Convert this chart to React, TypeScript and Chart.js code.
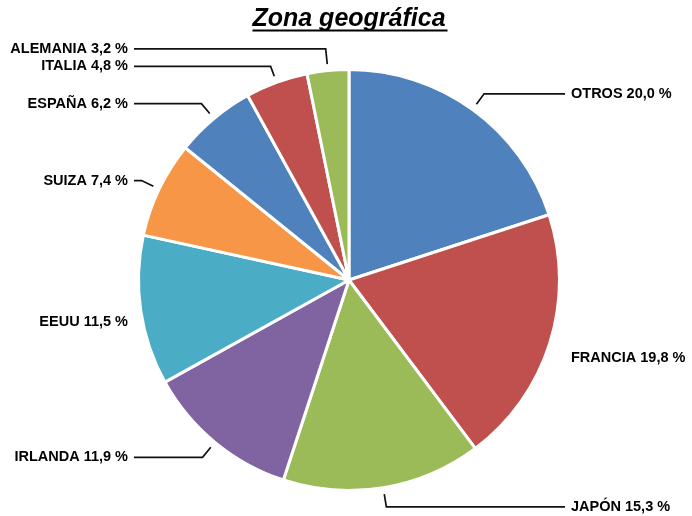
import { useEffect, useRef } from "react";
import { Chart, registerables } from "chart.js";

Chart.register(...registerables);

const TITLE = "Zona geográfica";
const CATEGORIES = ["OTROS", "FRANCIA", "JAPÓN", "IRLANDA", "EEUU", "SUIZA", "ESPAÑA", "ITALIA", "ALEMANIA"];
const SHARES = [20.0, 19.8, 15.3, 11.9, 11.5, 7.4, 6.2, 4.8, 3.2];
const COLORS = ["#4F81BD", "#C0504D", "#9BBB59", "#8064A2", "#4BACC6", "#F79646", "#4F81BD", "#C0504D", "#9BBB59"];

const FAMILY = "'Liberation Sans', Arial, sans-serif";
const LABEL_FONT = `bold 14.5px ${FAMILY}`;
const TITLE_SIZE = 25;
const BORDER = 3;

const fmt = (v: number) => v.toFixed(1).replace(".", ",") + " %";

const pieLabels = {
  id: "pieLabels",
  afterDatasetsDraw(chart: any) {
    const ctx = chart.ctx as CanvasRenderingContext2D;
    const meta = chart.getDatasetMeta(0);
    ctx.save();
    ctx.font = LABEL_FONT;
    const items = meta.data.map((arc: any, i: number) => {
      const p = arc.getProps(["x", "y", "startAngle", "endAngle", "outerRadius"], true);
      const r = p.outerRadius - BORDER / 2;
      const a = (p.startAngle + p.endAngle) / 2;
      const cos = Math.cos(a);
      const sin = Math.sin(a);
      const right = cos >= 0;
      const textX = right ? p.x + r + 13 : p.x - r - 12;
      const edgeX = right ? textX - 6 : textX + 6;
      const elbowX0 = p.x + (r + 21) * cos;
      const leader = right ? elbowX0 < edgeX - 2 : elbowX0 > edgeX + 2;
      let y = p.y + (r + 21) * sin;
      if (!leader) y += Math.sign(sin) * 9;
      return {
        cx: p.x, cy: p.y, r, cos, sin, right, textX, edgeX, leader, y,
        text: `${CATEGORIES[i]} ${fmt(SHARES[i])}`,
      };
    });
    for (const side of [true, false]) {
      const group = items.filter((it: any) => it.right === side).sort((a: any, b: any) => a.y - b.y);
      const gap = 17.5;
      for (let iter = 0; iter < 60; iter++) {
        let moved = false;
        for (let k = 1; k < group.length; k++) {
          const d = group[k].y - group[k - 1].y;
          if (d < gap - 0.01) {
            const s = (gap - d) / 2;
            group[k].y += s;
            group[k - 1].y -= s;
            moved = true;
          }
        }
        if (!moved) break;
      }
    }
    ctx.strokeStyle = "#111";
    ctx.lineWidth = 1.7;
    ctx.fillStyle = "#000";
    ctx.textBaseline = "middle";
    for (const it of items) {
      if (it.leader) {
        let t = Math.abs(it.sin) > 0.2 ? (it.y - it.cy) / it.sin : it.r + 21;
        t = Math.max(it.r + 12, Math.min(it.r + 40, t));
        const ex = it.cx + t * it.cos;
        ctx.beginPath();
        ctx.moveTo(it.cx + (it.r + 8) * it.cos, it.cy + (it.r + 8) * it.sin);
        ctx.lineTo(ex, it.y);
        ctx.lineTo(it.edgeX, it.y);
        ctx.stroke();
      }
      ctx.textAlign = it.right ? "left" : "right";
      ctx.fillText(it.text, it.textX, it.y);
    }
    ctx.restore();
  },
};

const titleUnderline = {
  id: "titleUnderline",
  afterDraw(chart: any) {
    const tb = chart.titleBlock;
    if (!tb) return;
    const ctx = chart.ctx as CanvasRenderingContext2D;
    ctx.save();
    ctx.font = `italic bold ${TITLE_SIZE}px ${FAMILY}`;
    const w = ctx.measureText(TITLE).width;
    const cx = tb.left + tb.width / 2;
    const y = tb.top + 4.5 + 15 + 11;
    ctx.strokeStyle = "#000";
    ctx.lineWidth = 2;
    ctx.beginPath();
    ctx.moveTo(cx - w / 2, y);
    ctx.lineTo(cx + w / 2 + 2, y);
    ctx.stroke();
    ctx.restore();
  },
};

export default function App() {
  const ref = useRef<HTMLCanvasElement | null>(null);
  useEffect(() => {
    if (!ref.current) return;
    const chart = new Chart(ref.current, {
      type: "pie",
      data: {
        labels: CATEGORIES,
        datasets: [
          {
            data: SHARES,
            backgroundColor: COLORS,
            borderColor: "#ffffff",
            borderWidth: BORDER,
          },
        ],
      },
      options: {
        responsive: false,
        animation: false,
        devicePixelRatio: 1,
        layout: { padding: { left: 137, right: 131, top: 0, bottom: 24 } },
        plugins: {
          legend: { display: false },
          tooltip: { enabled: false },
          title: {
            display: true,
            text: TITLE,
            color: "#000",
            font: { family: FAMILY, size: TITLE_SIZE, weight: "bold", style: "italic", lineHeight: 1.2 },
            padding: { top: 4.5, bottom: 33.5 },
          },
        },
      },
      plugins: [pieLabels, titleUnderline],
    } as any);
    return () => chart.destroy();
  }, []);
  return (
    <div style={{ position: "fixed", left: 0, top: 0, width: 692, height: 516, background: "#fff" }}>
      <canvas ref={ref} width={692} height={516} />
    </div>
  );
}
